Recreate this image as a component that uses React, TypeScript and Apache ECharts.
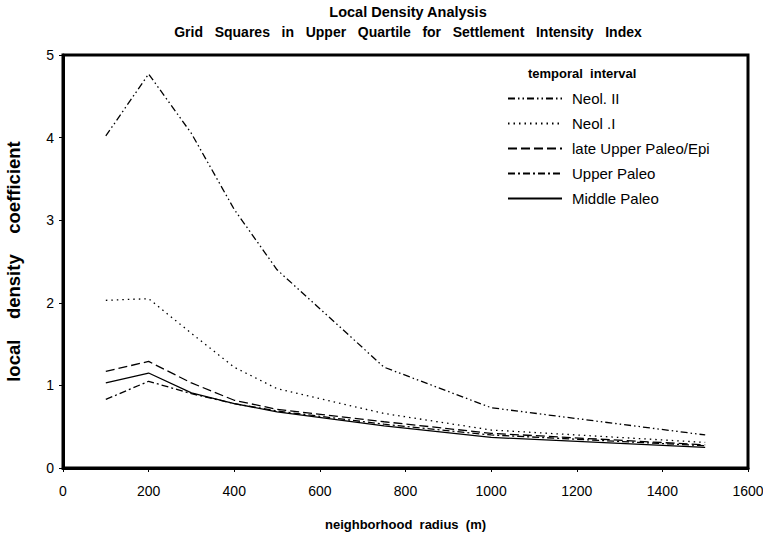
import React, { useEffect, useRef } from "react";
import * as echarts from "echarts";

const radius = [100, 200, 300, 400, 500, 750, 1000, 1500];
const neolII = [4.02, 4.77, 4.05, 3.13, 2.4, 1.22, 0.73, 0.4];
const neolI = [2.03, 2.05, 1.63, 1.22, 0.96, 0.66, 0.46, 0.31];
const lateUpperPaleo = [1.17, 1.29, 1.03, 0.82, 0.71, 0.56, 0.42, 0.28];
const upperPaleo = [0.83, 1.05, 0.9, 0.78, 0.69, 0.53, 0.4, 0.27];
const middlePaleo = [1.03, 1.15, 0.91, 0.78, 0.68, 0.51, 0.37, 0.25];

const seriesNames = ["Neol. II", "Neol .I", "late Upper Paleo/Epi", "Upper Paleo", "Middle Paleo"];
const seriesData = [neolII, neolI, lateUpperPaleo, upperPaleo, middlePaleo];
const dashes: (number[] | "solid")[] = [
  [7, 3, 1.5, 3, 1.5, 3],
  [1.5, 4],
  [9, 4],
  [7, 3, 2, 3],
  "solid",
];

const FONT = "'Liberation Sans', Arial, sans-serif";

export default function App() {
  const ref = useRef<HTMLDivElement>(null);
  useEffect(() => {
    if (!ref.current) return;
    const chart = echarts.init(ref.current, null, { renderer: "svg" });
    chart.setOption({
      animation: false,
      backgroundColor: "#fff",
      title: {
        text: "Local Density Analysis",
        subtext: "Grid   Squares   in   Upper   Quartile   for   Settlement   Intensity   Index",
        left: 403,
        textAlign: "center",
        top: -1,
        itemGap: 6,
        textStyle: { fontFamily: FONT, fontSize: 14.5, fontWeight: "bold", color: "#000" },
        subtextStyle: { fontFamily: FONT, fontSize: 14, fontWeight: "bold", color: "#000" },
      },
      grid: {
        left: 63,
        top: 55,
        right: 15,
        bottom: 69,
        outerBoundsMode: "none",
        containLabel: false,
        show: true,
        borderColor: "#000",
        borderWidth: 3,
      },
      legend: {
        orient: "vertical",
        left: 507,
        top: 91,
        padding: 0,
        itemWidth: 54,
        itemHeight: 16,
        itemGap: 10,
        data: seriesNames,
        itemStyle: { opacity: 0 },
        textStyle: { fontFamily: FONT, fontSize: 15, color: "#000", padding: [0, 0, 0, 5] },
      },
      graphic: [
        {
          type: "text",
          left: 528,
          top: 67,
          style: { text: "temporal  interval", font: `bold 13px ${FONT}`, fill: "#000" },
        },
      ],
      xAxis: {
        type: "value",
        min: 0,
        max: 1600,
        interval: 200,
        name: "neighborhood  radius  (m)",
        nameLocation: "middle",
        nameGap: 50,
        nameTextStyle: { fontFamily: FONT, fontSize: 13, fontWeight: "bold", color: "#000" },
        axisLine: { show: true, lineStyle: { color: "#000", width: 3 } },
        axisTick: { show: true, length: 4, lineStyle: { color: "#000", width: 1 } },
        axisLabel: {
          fontFamily: FONT,
          fontSize: 14,
          color: "#000",
          margin: 16,
          formatter: (v: number) => String(v),
        },
        splitLine: { show: false },
      },
      yAxis: {
        type: "value",
        min: 0,
        max: 5,
        interval: 1,
        name: "local    density    coefficient",
        nameLocation: "middle",
        nameGap: 40,
        nameRotate: 90,
        nameTextStyle: { fontFamily: FONT, fontSize: 18.5, fontWeight: "bold", color: "#000" },
        axisLine: { show: true, lineStyle: { color: "#000", width: 3 } },
        axisTick: { show: true, length: 4, lineStyle: { color: "#000", width: 1 } },
        axisLabel: { fontFamily: FONT, fontSize: 14, color: "#000", margin: 9 },
        splitLine: { show: false },
      },
      series: seriesNames.map((name, i) => ({
        name,
        type: "line",
        data: radius.map((x, j) => [x, seriesData[i][j]]),
        symbol: "none",
        lineStyle: { color: "#000", width: 1.3, type: dashes[i] },
        itemStyle: { color: "#000" },
      })),
    });
    return () => chart.dispose();
  }, []);
  return (
    <div
      ref={ref}
      style={{ position: "fixed", left: 0, top: 0, width: 763, height: 537 }}
    />
  );
}
